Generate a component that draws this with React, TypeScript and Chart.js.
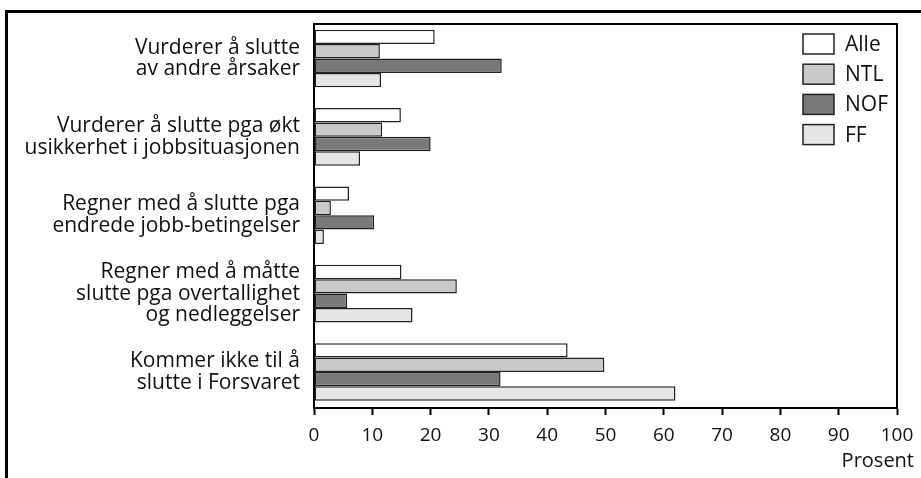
import React, { useEffect, useRef } from "react";
import { Chart, registerables } from "chart.js";
Chart.register(...registerables);

const categories: string[][] = [
  ["Vurderer å slutte", "av andre årsaker"],
  ["Vurderer å slutte pga økt", "usikkerhet i jobbsituasjonen"],
  ["Regner med å slutte pga", "endrede jobb-betingelser"],
  ["Regner med å måtte", "slutte pga overtallighet", "og nedleggelser"],
  ["Kommer ikke til å", "slutte i Forsvaret"],
];
const seriesNames = ["Alle", "NTL", "NOF", "FF"];
const alle = [20.7, 14.9, 6.0, 15.0, 43.5];
const ntl = [11.3, 11.7, 2.9, 24.5, 49.8];
const nof = [32.2, 20.0, 10.3, 5.7, 32.0];
const ff = [11.5, 7.9, 1.7, 16.9, 62.0];
const seriesValues = [alle, ntl, nof, ff];
const seriesColors = ["#ffffff", "#c9c9c9", "#797979", "#e6e6e6"];
const xTitle = "Prosent";
const xMin = 0;
const xMax = 100;
const xStep = 10;
const yMin = -0.44;
const yMax = 4.46;

const FONT = "'Open Sans', 'Noto Sans', sans-serif";

export default function App() {
  const ref = useRef<HTMLCanvasElement | null>(null);
  useEffect(() => {
    if (!ref.current) return;
    const framePlugin = {
      id: "framePlugin",
      afterDraw(chart: any) {
        const { ctx, chartArea } = chart;
        ctx.save();
        ctx.strokeStyle = "#000";
        ctx.lineWidth = 2;
        ctx.beginPath();
        ctx.moveTo(chartArea.left, chartArea.top);
        ctx.lineTo(chartArea.right, chartArea.top);
        ctx.lineTo(chartArea.right, chartArea.bottom);
        ctx.stroke();
        // legend
        const ds = chart.data.datasets;
        ctx.font = `21px ${FONT}`;
        ctx.textBaseline = "middle";
        ctx.textAlign = "left";
        ds.forEach((d: any, i: number) => {
          const cy = 44 + i * 30.2;
          ctx.fillStyle = d.backgroundColor;
          ctx.fillRect(803, cy - 10, 31, 20);
          ctx.lineWidth = 1.5;
          ctx.strokeStyle = "#222";
          ctx.strokeRect(803, cy - 10, 31, 20);
          ctx.fillStyle = "#111";
          ctx.fillText(d.label, 845, cy + 1);
        });
        // x title
        ctx.font = `20px ${FONT}`;
        ctx.textAlign = "right";
        ctx.fillText(xTitle, 914, 461);
        ctx.restore();
      },
    };
    const chart = new Chart(ref.current, {
      type: "bar",
      data: {
        datasets: seriesNames.map((name, si) => ({
          label: name,
          data: seriesValues[si].map((v, i) => ({ x: v, y: i })),
          backgroundColor: seriesColors[si],
          borderColor: "#222",
          borderWidth: 1.5,
          borderSkipped: false,
          categoryPercentage: 0.735,
          barPercentage: 1,
        })),
      },
      options: {
        indexAxis: "y",
        animation: false,
        responsive: false,
        maintainAspectRatio: false,
        layout: { padding: { top: 24, right: 24, left: 0, bottom: 0 } },
        plugins: { legend: { display: false }, tooltip: { enabled: false } },
        scales: {
          y: {
            type: "linear",
            reverse: true,
            offset: false,
            bounds: "data",
            min: yMin,
            max: yMax,
            afterBuildTicks(scale: any) {
              scale.min = yMin;
              scale.max = yMax;
              scale.ticks = categories.map((_, i) => ({ value: i }));
            },
            afterFit(scale: any) {
              scale.width = 314;
              scale.paddingTop = 0;
              scale.paddingBottom = 0;
            },
            grid: { display: false, offset: false },
            border: { display: true, color: "#000", width: 2 },
            ticks: {
              padding: 6,
              color: "#111",
              font: { family: FONT, size: 21, lineHeight: 1.04 },
              callback: (v: any) => categories[v as number] ?? "",
            },
          },
          x: {
            type: "linear",
            min: xMin,
            max: xMax,
            afterFit(scale: any) {
              scale.height = 70;
              scale.paddingLeft = 0;
              scale.paddingRight = 0;
            },
            grid: {
              drawOnChartArea: false,
              drawTicks: true,
              tickLength: 7,
              tickColor: "#000",
              tickWidth: 2,
            },
            border: { display: true, color: "#000", width: 2 },
            ticks: {
              stepSize: xStep,
              padding: 9,
              color: "#111",
              maxRotation: 0,
              font: { family: FONT, size: 19 },
            },
          },
        },
      },
      plugins: [framePlugin],
    } as any);
    return () => chart.destroy();
  }, []);
  return (
    <div style={{ position: "absolute", left: 0, top: 0, width: 921, height: 478, overflow: "hidden", background: "#fff" }}>
      <canvas ref={ref} width={921} height={478} style={{ position: "absolute", left: 0, top: 0 }} />
      <div
        style={{
          position: "absolute",
          left: 5,
          top: 10,
          width: 940,
          height: 500,
          borderLeft: "3px solid #000",
          borderTop: "3px solid #000",
          pointerEvents: "none",
        }}
      />
    </div>
  );
}
